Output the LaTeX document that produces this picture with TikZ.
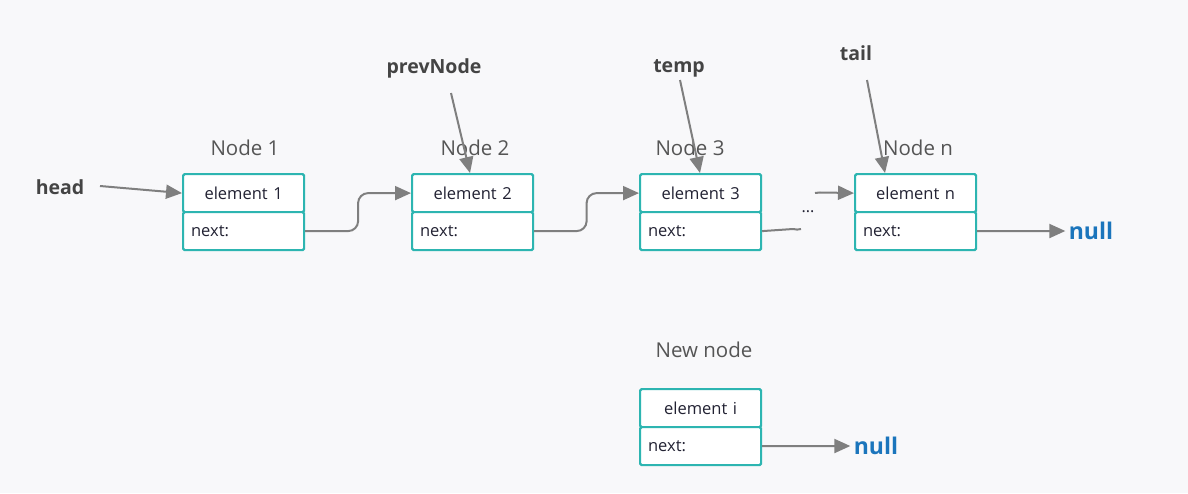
\documentclass[tikz,border=0pt]{standalone}
\usepackage{fontspec}
\setmainfont{Open Sans}
\usetikzlibrary{arrows.meta,calc}
\definecolor{bg}{HTML}{F8F8FA}
\definecolor{teal}{HTML}{2DB5B1}
\definecolor{conn}{HTML}{7F7F7F}
\definecolor{celltext}{HTML}{222233}
\definecolor{lbl}{HTML}{555555}
\definecolor{ptr}{HTML}{444444}
\definecolor{nullc}{HTML}{1B75BC}
\tikzset{
  topcell/.style={draw=teal, line width=2.2pt, fill=white, rounded corners=1.5pt,
    minimum height=38pt, text width=105pt, inner xsep=8pt, inner ysep=0pt, align=center,
    font=\fontsize{16.5}{19}\selectfont, text=celltext, anchor=north west},
  botcell/.style={topcell, align=left, anchor=north west},
  nodelbl/.style={font=\fontsize{20.5}{24}\selectfont, text=lbl},
  ptrlbl/.style={font=\bfseries\fontsize{19.5}{22}\selectfont, text=ptr},
  nulllbl/.style={font=\bfseries\fontsize{23}{26}\selectfont, text=nullc},
  link/.style={draw=conn, line width=2pt, -{Triangle[length=16pt,width=14pt]}},
  plain/.style={draw=conn, line width=2pt}
}
\begin{document}
\begin{tikzpicture}[x=1pt,y=-1pt]
\fill[bg] (0,0) rectangle (1188,493);
\useasboundingbox (0,0) rectangle (1188,493);
% cells
\node[topcell] (n1) at (182,173) {element 1};
\node[botcell] (n1b) at (182,211) {next:};
\node[topcell] (n2) at (411,173) {element 2};
\node[botcell] (n2b) at (411,211) {next:};
\node[topcell] (n3) at (639,173) {element 3};
\node[botcell] (n3b) at (639,211) {next:};
\node[topcell] (n4) at (854,173) {element n};
\node[botcell] (n4b) at (854,211) {next:};
\node[topcell] (ni) at (639,388) {element i};
\node[botcell] (nib) at (639,426) {next:};
% labels
\node[nodelbl] (l1) at (245,148) {Node 1};
\node[nodelbl] (l2) at (475,148) {Node 2};
\node[nodelbl] (l3) at (690,148) {Node 3};
\node[nodelbl] (l4) at (918,148) {Node n};
\node[nodelbl] (li) at (704,350) {New node};
% pointers
\node[ptrlbl] (head) at (60,187) {head};
\node[ptrlbl] (prev) at (434,68) {prevNode};
\node[ptrlbl] (temp) at (679,68) {temp};
\node[ptrlbl] (tail) at (856,53) {tail};
\node[nulllbl] (null1) at (1091,231) {null};
\node[nulllbl] (null2) at (876,446) {null};
\node[font=\fontsize{16}{18}\selectfont, text=celltext] (dots) at (808,212) {...};
\coordinate (d1) at (801,229);
\coordinate (d2) at (815,193);
% pointer arrows
\draw[link] (100,186) coordinate (h0) -- (n1.west);
\draw[link] (451,93) coordinate (p0) -- ($(n2.north west)+(59,0)$);
\draw[link] (680,80) coordinate (t0) -- ($(n3.north west)+(61,0)$);
\draw[link] (867,80) coordinate (ta0) -- ($(n4.north west)+(31,0)$);
% next links
\draw[link, rounded corners=10pt] (n1b.east) -| ($(n1b.east)!0.5!(n2.west)$) |- (n2.west);
\draw[link, rounded corners=10pt] (n2b.east) -| ($(n2b.east)!0.5!(n3.west)$) |- (n3.west);
\draw[plain] (n3b.east) -- ($(d1)+(-8,0)$) to[out=0,in=-150] (d1);
\draw[link] (d2) to[out=10,in=180] ($(d2)+(10,-0.5)$) -- (n4.west);
\draw[link] (n4b.east) -- (null1.west);
\draw[link] (nib.east) -- (null2.west);
\end{tikzpicture}
\end{document}
